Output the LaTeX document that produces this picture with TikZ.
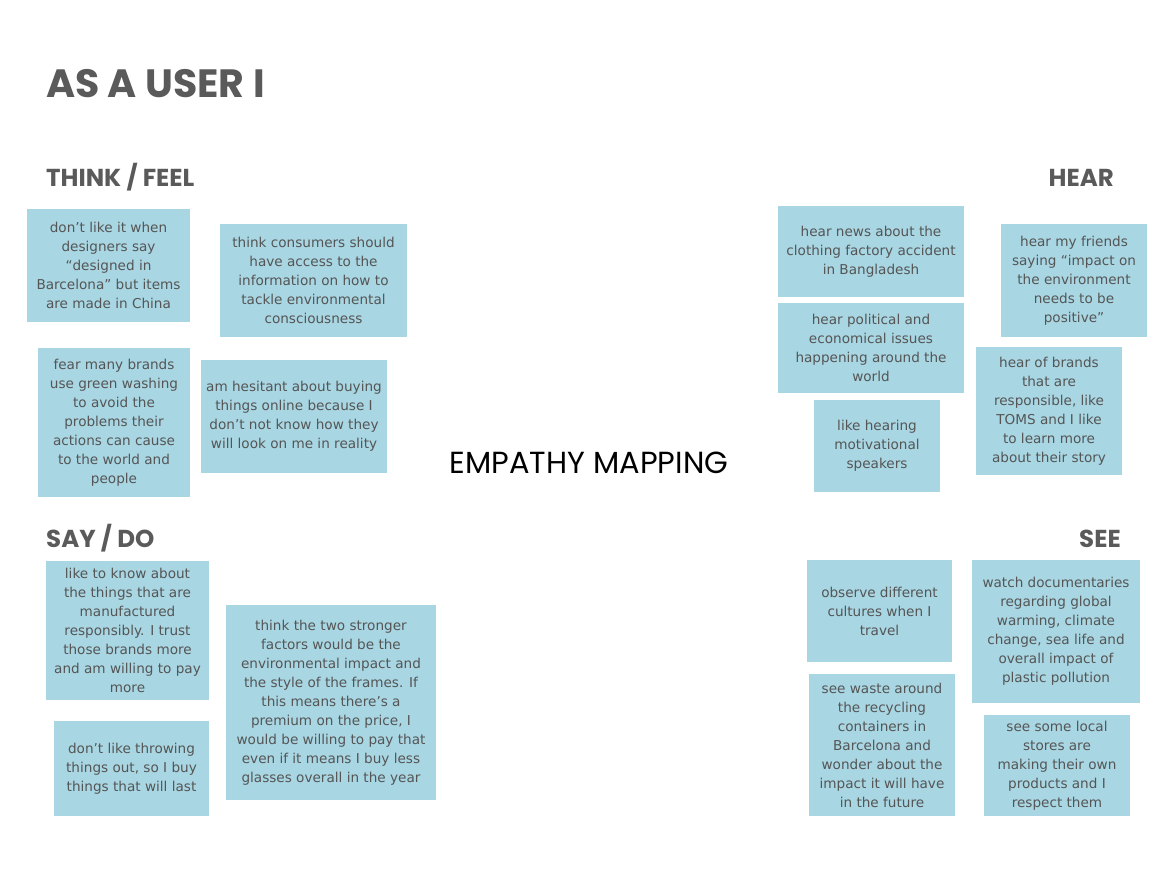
\documentclass[tikz,border=0pt]{standalone}
\usepackage{fontspec}
\setmainfont{Poppins}
\newfontfamily\notefont{DejaVu Sans}
\newfontfamily\headfont{Poppins}
\definecolor{notecol}{HTML}{A8D6E3}
\definecolor{notetext}{HTML}{555555}
\definecolor{headcol}{HTML}{5A5A5A}
\begin{document}
\begin{tikzpicture}[x=1pt,y=-1pt,
  note/.style={fill=notecol, text=notetext, align=center, inner sep=0pt,
    font=\notefont\fontsize{13.6}{19}\selectfont},
  sect/.style={text=headcol, inner sep=0pt, font=\headfont\bfseries\fontsize{24.5}{28}\selectfont}]
\useasboundingbox (0,0) rectangle (1175,874);
% headers
\node[text=headcol, inner sep=0pt, anchor=base west, font=\headfont\bfseries\fontsize{39.5}{44}\selectfont] (title) at (46,98) {AS A USER I};
\node[sect, anchor=base west] (think) at (46,187) {THINK / FEEL};
\node[sect, anchor=base east] (hear) at (1114,187) {HEAR};
\node[sect, anchor=base west] (say) at (46,547) {SAY / DO};
\node[sect, anchor=base east] (see) at (1121,547) {SEE};
\node[inner sep=0pt, anchor=base, text=black, font=\headfont\fontsize{30.5}{34}\selectfont] (center) at (589,473) {EMPATHY MAPPING};
% think / feel
\node[note, minimum width=163pt, minimum height=113pt] (n1) at (108.5,265.5) {don’t like it when\\designers say\\“designed in\\Barcelona” but items\\are made in China};
\node[note, minimum width=187pt, minimum height=113pt] (n2) at (313.5,280.5) {think consumers should\\have access to the\\information on how to\\tackle environmental\\consciousness};
\node[note, minimum width=152pt, minimum height=149pt] (n3) at (114,422.5) {fear many brands\\use green washing\\to avoid the\\problems their\\actions can cause\\to the world and\\people};
\node[note, minimum width=186pt, minimum height=113pt] (n4) at (294,416.5) {am hesitant about buying\\things online because I\\don’t not know how they\\will look on me in reality};
% hear
\node[note, minimum width=186pt, minimum height=91pt] (n5) at (871,251.5) {hear news about the\\clothing factory accident\\in Bangladesh};
\node[note, minimum width=146pt, minimum height=113pt] (n6) at (1074,280.5) {hear my friends\\saying “impact on\\the environment\\needs to be\\positive”};
\node[note, minimum width=186pt, minimum height=90pt] (n7) at (871,348) {hear political and\\economical issues\\happening around the\\world};
\node[note, minimum width=126pt, minimum height=92pt] (n8) at (877,446) {like hearing\\motivational\\speakers};
\node[note, minimum width=146pt, minimum height=128pt] (n9) at (1049,411) {hear of brands\\that are\\responsible, like\\TOMS and I like\\to learn more\\about their story};
% say / do
\node[note, minimum width=163pt, minimum height=139pt] (n10) at (127.5,630.5) {like to know about\\the things that are\\manufactured\\responsibly. I trust\\those brands more\\and am willing to pay\\more};
\node[note, minimum width=155pt, minimum height=95pt] (n11) at (131.5,768.5) {don’t like throwing\\things out, so I buy\\things that will last};
\node[note, minimum width=210pt, minimum height=195pt] (n12) at (331,702.5) {think the two stronger\\factors would be the\\environmental impact and\\the style of the frames. If\\this means there’s a\\premium on the price, I\\would be willing to pay that\\even if it means I buy less\\glasses overall in the year};
% see
\node[note, minimum width=145pt, minimum height=102pt] (n13) at (879.5,611) {observe different\\cultures when I\\travel};
\node[note, minimum width=168pt, minimum height=143pt] (n14) at (1056,631.5) {watch documentaries\\regarding global\\warming, climate\\change, sea life and\\overall impact of\\plastic pollution};
\node[note, minimum width=146pt, minimum height=142pt] (n15) at (882,745) {see waste around\\the recycling\\containers in\\Barcelona and\\wonder about the\\impact it will have\\in the future};
\node[note, minimum width=146pt, minimum height=101pt] (n16) at (1057,765.5) {see some local\\stores are\\making their own\\products and I\\respect them};
\end{tikzpicture}
\end{document}
